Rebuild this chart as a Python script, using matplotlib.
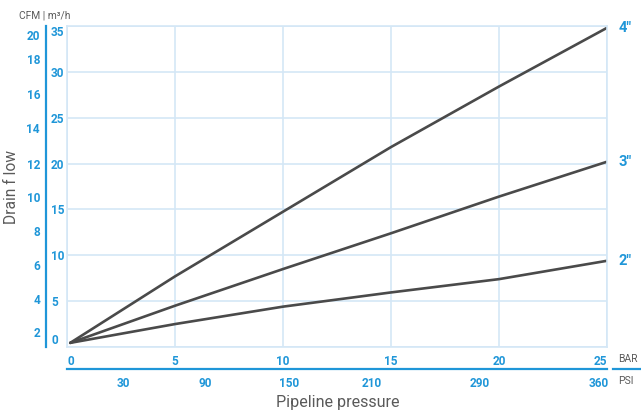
import matplotlib.pyplot as plt
from matplotlib.lines import Line2D

# data
bar = [0.15, 5, 10, 15, 20, 25]
flow_4in = [0.45, 7.7, 14.75, 21.8, 28.4, 34.8]
flow_3in = [0.45, 4.5, 8.5, 12.4, 16.4, 20.2]
flow_2in = [0.45, 2.5, 4.4, 5.95, 7.4, 9.4]
series = [("4\"", flow_4in), ("3\"", flow_3in), ("2\"", flow_2in)]

bar_ticks = [0, 5, 10, 15, 20, 25]
m3h_ticks = [0, 5, 10, 15, 20, 25, 30, 35]

# CFM labels and where they sit on the m3/h scale
cfm_labels = [2, 4, 6, 8, 10, 12, 14, 16, 18, 20]
cfm_pos = [1.64, 5.23, 8.94, 12.65, 16.4, 20.0, 23.9, 27.6, 31.4, 34.0]

# PSI labels and where they sit on the bar scale
psi_labels = [30, 90, 150, 210, 290, 360]
psi_pos = [2.6, 6.4, 10.3, 14.1, 19.1, 24.6]

blue = "#1f96d8"
grid_blue = "#d4e7f6"
line_col = "#4a4a4a"
grey = "#5a5a5a"

plt.rcParams['font.family'] = ['Roboto', 'DejaVu Sans']

W, H = 641, 418
fig = plt.figure(figsize=(W / 100, H / 100), dpi=100)
ax = fig.add_axes([67 / W, 71 / H, 540 / W, 321 / H])

ax.set_xlim(0, 25)
ax.set_ylim(0, 35)
ax.grid(True, color=grid_blue, linewidth=1.2)
ax.set_axisbelow(True)
for s in ax.spines.values():
    s.set_color(grid_blue)
    s.set_linewidth(1.2)

for name, vals in series:
    ax.plot(bar, vals, color=line_col, linewidth=1.9, solid_capstyle='round')
    ax.annotate(name, (bar[-1], vals[-1]), xytext=(8.5, 0), textcoords='offset points',
                ha='left', va='center', color=blue, fontsize=10.5, fontweight='bold')

# BAR ticks
ax.set_xticks(bar_ticks)
ax.set_xticklabels([str(v) for v in bar_ticks])
ax.tick_params(axis='x', length=0, pad=5.5, labelsize=8.5, labelcolor=blue)
xl = ax.get_xticklabels()
xl[0].set_ha('left')
xl[-1].set_ha('right')
for t in xl:
    t.set_fontweight('bold')

# m3/h ticks
ax.set_yticks(m3h_ticks)
ax.set_yticklabels([str(v) for v in m3h_ticks])
ax.tick_params(axis='y', length=0, pad=11.5, labelsize=8.5, labelcolor=blue)
yl = ax.get_yticklabels()
for t in yl:
    t.set_ha('left')
    t.set_fontweight('bold')
yl[0].set_va('bottom')
yl[-1].set_va('top')

# CFM axis on the far left
ax2 = ax.twinx()
ax2.set_ylim(0, 35)
ax2.yaxis.set_ticks_position('left')
ax2.spines['left'].set_position(('outward', 15.1))
ax2.spines['left'].set_color(blue)
ax2.spines['left'].set_linewidth(1.6)
for k in ['right', 'top', 'bottom']:
    ax2.spines[k].set_visible(False)
ax2.set_yticks(cfm_pos)
ax2.set_yticklabels([str(v) for v in cfm_labels])
ax2.tick_params(axis='y', length=0, pad=4.3, labelsize=8.5, labelcolor=blue)
for t in ax2.get_yticklabels():
    t.set_fontweight('bold')

# PSI axis below the BAR row
ax3 = ax.twiny()
ax3.set_xlim(0, 25)
ax3.xaxis.set_ticks_position('bottom')
ax3.spines['bottom'].set_position(('outward', 15.8))
ax3.spines['bottom'].set_color(blue)
ax3.spines['bottom'].set_linewidth(1.6)
for k in ['left', 'right', 'top']:
    ax3.spines[k].set_visible(False)
ax3.set_xticks(psi_pos)
ax3.set_xticklabels([str(v) for v in psi_labels])
ax3.tick_params(axis='x', length=0, pad=5.6, labelsize=8.5, labelcolor=blue)
for t in ax3.get_xticklabels():
    t.set_fontweight('bold')

# short piece of the divider under BAR / PSI
fig.add_artist(Line2D([613 / W, 1], [1 - 369 / H, 1 - 369 / H], transform=fig.transFigure,
                      color=blue, linewidth=1.6))

fig.text(19 / W, 1 - 15 / H, "CFM | m³/h", ha='left', va='center', color=grey, fontsize=7.4)
fig.text(12 / W, 1 - 187 / H, "Drain f low", rotation=90, ha='center', va='center',
         color=grey, fontsize=11.2)
fig.text(338 / W, 1 - 403 / H, "Pipeline pressure", ha='center', va='center',
         color=grey, fontsize=11.6)
fig.text(618 / W, 1 - 359 / H, "BAR", ha='left', va='center', color=grey, fontsize=7.5)
fig.text(618 / W, 1 - 381 / H, "PSI", ha='left', va='center', color=grey, fontsize=7.5)

fig.savefig("out.png", dpi=100)
